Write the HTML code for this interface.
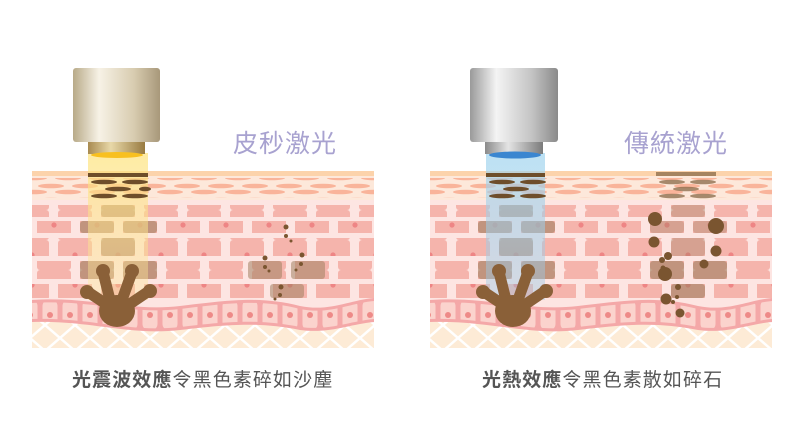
<!DOCTYPE html>
<html><head><meta charset="utf-8"><style>
body{margin:0;background:#fff;width:806px;height:421px;overflow:hidden}
svg{display:block}
text{font-family:"Liberation Sans","Noto Sans CJK TC",sans-serif}
</style></head><body>
<svg width="806" height="421" viewBox="0 0 806 421" xmlns="http://www.w3.org/2000/svg">
<defs>
<pattern id="ov" x="0" y="0" width="34" height="14" patternUnits="userSpaceOnUse">
<ellipse cx="17" cy="4" rx="13" ry="2.3" fill="#f9b49a"/>
<ellipse cx="0" cy="10" rx="13" ry="2.3" fill="#f9b49a"/><ellipse cx="34" cy="10" rx="13" ry="2.3" fill="#f9b49a"/>
</pattern>
<pattern id="ra" x="101" y="0" width="43" height="30" patternUnits="userSpaceOnUse">
<rect x="0" y="0" width="34" height="30" rx="3" fill="#f5b4ac"/><circle cx="17" cy="15" r="2.6" fill="#ee8585"/></pattern>
<pattern id="rb" x="80" y="0" width="43" height="30" patternUnits="userSpaceOnUse">
<rect x="0" y="0" width="34" height="30" rx="3" fill="#f5b4ac"/><circle cx="17" cy="15" r="2.6" fill="#ee8585"/></pattern>
<pattern id="bc" x="0" y="0" width="20" height="30" patternUnits="userSpaceOnUse">
<rect x="2.5" y="0" width="15" height="30" rx="6" fill="#fbd3cd"/><circle cx="10" cy="15" r="3" fill="#ee8a88"/></pattern>
<pattern id="dx" x="0" y="0" width="30" height="26" patternUnits="userSpaceOnUse">
<path d="M0 0 L30 26 M30 0 L0 26" stroke="#fff" stroke-width="2.5"/></pattern>
<linearGradient id="capg" x1="0" x2="1"><stop offset="0" stop-color="#b8aa88"/><stop offset=".3" stop-color="#f7f2e6"/><stop offset=".7" stop-color="#d8ccb0"/><stop offset="1" stop-color="#a8987a"/></linearGradient>
<linearGradient id="colg" x1="0" x2="1"><stop offset="0" stop-color="#a88a50"/><stop offset=".4" stop-color="#e8d8a8"/><stop offset="1" stop-color="#987a40"/></linearGradient>
<linearGradient id="capg2" x1="0" x2="1"><stop offset="0" stop-color="#9a9a9a"/><stop offset=".3" stop-color="#f4f4f4"/><stop offset=".7" stop-color="#c4c4c4"/><stop offset="1" stop-color="#8a8a8a"/></linearGradient>
<linearGradient id="colg2" x1="0" x2="1"><stop offset="0" stop-color="#8a8a8a"/><stop offset=".4" stop-color="#e4e4e4"/><stop offset="1" stop-color="#7a7a7a"/></linearGradient>
<linearGradient id="by" x1="0" y1="0" x2="0" y2="1"><stop offset="0" stop-color="#fde27a" stop-opacity=".7"/><stop offset="1" stop-color="#fce79a" stop-opacity=".35"/></linearGradient>
<linearGradient id="bb" x1="0" y1="0" x2="0" y2="1"><stop offset="0" stop-color="#a0d4ee" stop-opacity=".7"/><stop offset="1" stop-color="#9ac8e4" stop-opacity=".4"/></linearGradient>
<g id="hand">
<path d="M88 292 L112 308 M103 272 L110 300 M132 272 L122 300 M149 291 L124 308" stroke="#8a6038" stroke-width="11" stroke-linecap="round" fill="none"/>
<circle cx="87" cy="292" r="7" fill="#8a6038"/><circle cx="103" cy="271" r="7" fill="#8a6038"/>
<circle cx="132" cy="271" r="7" fill="#8a6038"/><circle cx="150" cy="291" r="7" fill="#8a6038"/>
<ellipse cx="117" cy="311" rx="18" ry="16" fill="#8a6038"/>
</g>
<g id="skin">
<rect x="32" y="171" width="342" height="5" fill="#fcd3ab"/>
<rect x="32" y="176" width="342" height="24" fill="#fde8da"/>
<rect x="32" y="178" width="342" height="20" fill="url(#ov)"/>
<rect x="32" y="200" width="342" height="110" fill="#fde5e2"/>
<rect x="32" y="205" width="342" height="12" fill="url(#ra)"/>
<rect x="32" y="221" width="342" height="12" fill="url(#rb)"/>
<rect x="32" y="238" width="342" height="18" fill="url(#ra)"/>
<rect x="32" y="261" width="342" height="18" fill="url(#rb)"/>
<rect x="32" y="284" width="342" height="14" fill="url(#ra)"/>
<rect x="32" y="318" width="342" height="30" fill="#fdebd6"/>
<rect x="32" y="318" width="342" height="30" fill="url(#dx)"/>
<path d="M32 300 C90 296 130 312 180 306 C230 300 260 296 300 306 C330 312 350 300 374 298 L374 322 C350 324 330 334 300 330 C260 322 230 324 180 330 C130 336 90 320 32 322 Z" fill="#f4a8a8"/>
<path d="M32 303 C90 299 130 315 180 309 C230 303 260 299 300 309 C330 315 350 303 374 301 L374 319 C350 321 330 331 300 327 C260 319 230 321 180 327 C130 333 90 317 32 319 Z" fill="url(#bc)"/>
</g>
</defs>
<!-- LEFT -->
<use href="#skin"/>
<g fill="#a08060" opacity=".6">
<rect x="101" y="205" width="34" height="12" rx="3"/><rect x="80" y="221" width="34" height="12" rx="3"/><rect x="123" y="221" width="34" height="12" rx="3"/>
<rect x="101" y="238" width="34" height="18" rx="3"/><rect x="80" y="261" width="34" height="18" rx="3"/><rect x="123" y="261" width="34" height="18" rx="3"/>
<rect x="248" y="261" width="34" height="18" rx="3" opacity=".9"/><rect x="291" y="261" width="34" height="18" rx="3" opacity=".9"/><rect x="270" y="284" width="34" height="14" rx="3" opacity=".9"/>
</g>
<rect x="88" y="153" width="60" height="147" fill="url(#by)"/>
<g fill="#6e4e2a">
<rect x="88" y="173" width="60" height="4"/>
<ellipse cx="104" cy="182" rx="13" ry="2.3"/><ellipse cx="135" cy="182" rx="13" ry="2.3"/>
<ellipse cx="118" cy="189" rx="13" ry="2.3"/><ellipse cx="145" cy="189" rx="6" ry="2.3"/>
<ellipse cx="104" cy="196" rx="13" ry="2.3"/><ellipse cx="135" cy="196" rx="13" ry="2.3"/>
</g>
<use href="#hand"/>
<g fill="#7a5530">
<circle cx="286" cy="227" r="2.5"/><circle cx="286" cy="236" r="2"/><circle cx="291" cy="241" r="1.5"/>
<circle cx="265" cy="258" r="2.5"/><circle cx="265" cy="267" r="2"/><circle cx="269" cy="271" r="1.5"/>
<circle cx="302" cy="255" r="2.5"/><circle cx="301" cy="264" r="2"/><circle cx="296" cy="270" r="1.5"/>
<circle cx="281" cy="287" r="2.5"/><circle cx="280" cy="295" r="2"/><circle cx="275" cy="299" r="1.5"/>
</g>
<rect x="73" y="68" width="87" height="74" rx="3" fill="url(#capg)"/>
<rect x="88" y="142" width="57" height="12" fill="url(#colg)"/>
<ellipse cx="117" cy="155" rx="26" ry="3" fill="#f8c020"/>
<text x="233" y="152" font-size="25" fill="#a8a2d0" letter-spacing="1">皮秒激光</text>
<text x="72" y="386" font-size="19" fill="#555" letter-spacing="1.1"><tspan font-weight="bold">光震波效應</tspan>令黑色素碎如沙塵</text>
<!-- RIGHT -->
<use href="#skin" transform="translate(398,0)"/>
<g fill="#a08060" opacity=".6">
<rect x="499" y="205" width="34" height="12" rx="3"/><rect x="478" y="221" width="34" height="12" rx="3"/><rect x="521" y="221" width="34" height="12" rx="3"/>
<rect x="499" y="238" width="34" height="18" rx="3"/><rect x="478" y="261" width="34" height="18" rx="3"/><rect x="521" y="261" width="34" height="18" rx="3"/>
<rect x="671" y="205" width="34" height="12" rx="3" opacity=".6"/><rect x="650" y="221" width="34" height="12" rx="3" opacity=".6"/><rect x="693" y="221" width="34" height="12" rx="3" opacity=".6"/>
<rect x="671" y="238" width="34" height="18" rx="3" opacity=".6"/><rect x="650" y="261" width="34" height="18" rx="3"/><rect x="693" y="261" width="34" height="18" rx="3"/><rect x="671" y="284" width="34" height="14" rx="3"/>
</g>
<rect x="486" y="153" width="59" height="147" fill="url(#bb)"/>
<g fill="#6e4e2a">
<rect x="486" y="173" width="59" height="4"/>
<ellipse cx="502" cy="182" rx="13" ry="2.3"/><ellipse cx="533" cy="182" rx="13" ry="2.3"/>
<ellipse cx="516" cy="189" rx="13" ry="2.3"/>
<ellipse cx="502" cy="196" rx="13" ry="2.3"/><ellipse cx="533" cy="196" rx="13" ry="2.3"/>
</g>
<g fill="#8a6a48" opacity=".75">
<rect x="656" y="172" width="60" height="4"/>
<ellipse cx="672" cy="182" rx="13" ry="2.3"/><ellipse cx="703" cy="182" rx="13" ry="2.3"/>
<ellipse cx="686" cy="189" rx="13" ry="2.3"/>
<ellipse cx="672" cy="196" rx="13" ry="2.3"/><ellipse cx="703" cy="196" rx="13" ry="2.3"/>
</g>
<use href="#hand" transform="translate(396,0)"/>
<g fill="#7a5530">
<circle cx="655" cy="219" r="7"/><circle cx="716" cy="226" r="8"/><circle cx="654" cy="242" r="5.5"/>
<circle cx="716" cy="251" r="5.5"/><circle cx="668" cy="256" r="4"/><circle cx="662" cy="260" r="3"/>
<circle cx="704" cy="264" r="4.5"/><circle cx="665" cy="274" r="7"/><circle cx="663" cy="268" r="2.5"/>
<circle cx="678" cy="287" r="3"/><circle cx="677" cy="297" r="2"/><circle cx="666" cy="299" r="5.5"/>
<circle cx="673" cy="302" r="2"/><circle cx="680" cy="313" r="4.5"/>
</g>
<rect x="470" y="68" width="88" height="74" rx="3" fill="url(#capg2)"/>
<rect x="485" y="142" width="58" height="12" fill="url(#colg2)"/>
<ellipse cx="515" cy="155" rx="26" ry="3.5" fill="#3a86d0"/>
<text x="624" y="152" font-size="25" fill="#a8a2d0" letter-spacing="1">傳統激光</text>
<text x="482" y="386" font-size="19" fill="#555" letter-spacing="1.1"><tspan font-weight="bold">光熱效應</tspan>令黑色素散如碎石</text>
</svg>
</body></html>
